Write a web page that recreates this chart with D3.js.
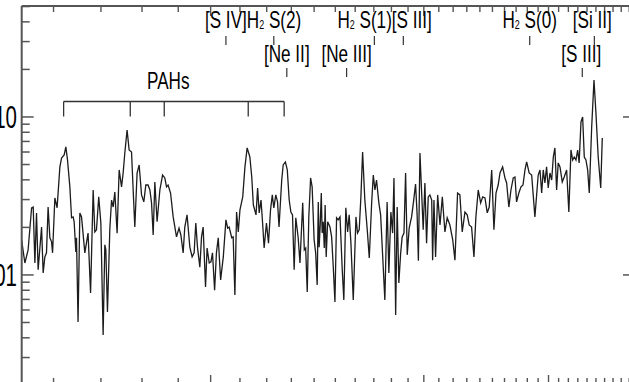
<!DOCTYPE html>
<html><head><meta charset="utf-8">
<script src="https://cdn.jsdelivr.net/npm/d3@7"></script>
<style>html,body{margin:0;padding:0;background:#fff;overflow:hidden}svg{display:block}</style>
</head><body><svg id="c" width="629" height="382"></svg>
<script>
// ---- data (wavelength in micron, flux density) ----
const wavelength = [
5.408,5.466,5.524,5.587,5.616,5.647,5.677,5.707,5.771,5.801,
5.833,5.864,5.895,5.929,5.962,5.981,6.026,6.070,6.125,6.159,
6.211,6.245,6.279,6.327,6.362,6.395,6.416,6.451,6.465,6.498,
6.536,6.572,6.643,6.713,6.768,6.825,6.862,6.899,6.950,6.998,
7.050,7.089,7.112,7.150,7.206,7.246,7.284,7.323,7.378,7.427,
7.485,7.524,7.565,7.621,7.672,7.732,7.773,7.815,7.873,7.926,
7.988,8.047,8.100,8.159,
8.207,8.252,8.296,8.341,8.402,8.478,8.553,8.616,8.663,8.708,
8.778,8.853,8.949,9.023,9.077,9.145,9.194,9.262,9.346,9.416,
9.477,9.529,9.581,9.655,9.708,9.759,9.835,9.885,9.954,10.01,
10.06,10.13,10.19,10.25,10.33,10.42,10.51,10.57,10.62,10.71,
10.76,10.82,10.88,10.94,11.00,11.10,11.18,11.26,11.36,11.43,
11.49,11.59,11.65,11.71,11.78,11.84,11.90,11.99,12.07,12.15,
12.22,12.28,12.36,12.43,12.49,
12.60,12.66,12.75,12.83,12.91,12.98,13.05,13.12,13.19,13.29,
13.37,13.49,13.56,13.62,13.69,13.76,13.84,13.91,14.00,14.07,
14.14,14.19,14.23,14.28,14.33,14.37,14.42,14.47,14.51,14.56,
14.63,14.74,14.82,14.90,14.98,15.06,15.14,15.23,15.34,15.42,
15.52,15.61,15.69,15.78,15.90,16.04,16.12,16.21,16.30,16.39,
16.51,16.64,16.75,16.88,16.97,17.06,17.15,17.28,17.38,17.62,
17.75,17.85,17.97,18.07,18.15,18.25,18.34,18.44,18.55,18.64,
18.75,18.85,18.95,19.07,
19.22,19.34,19.47,19.57,19.65,19.75,19.86,19.96,20.07,20.18,
20.29,20.40,20.52,20.58,20.67,20.78,20.92,21.08,21.24,21.42,
21.58,21.77,21.97,22.13,22.32,22.49,22.66,22.86,23.03,23.18,
23.36,23.54,23.69,23.87,24.06,24.22,24.40,24.58,24.74,24.94,
25.12,25.29,25.47,25.62,25.84,26.04,26.18,26.37,26.55,26.75,
26.90,27.04,27.24,
27.43,27.61,27.79,27.94,28.17,28.40,28.70,29.01,29.18,29.34,
29.49,29.65,29.81,29.97,30.14,30.31,30.47,30.63,30.80,30.96,
31.14,31.37,31.57,31.82,32.05,32.27,32.45,32.62,32.80,32.98,
33.14,33.34,33.52,33.70,33.88,34.07,34.25,34.52,34.78,35.00,
35.26,35.55,35.73
];
const flux = [
0.0167,0.0119,0.0144,0.0266,0.0269,0.0119,0.0247,0.0108,0.0201,0.0103,
0.0130,0.0138,0.0269,0.0172,0.0162,0.0138,0.0307,0.0266,0.0483,0.0550,
0.0575,0.0646,0.0534,0.0361,0.0230,0.0233,0.0217,0.0140,0.0172,0.00504,
0.0247,0.0233,0.0138,0.0184,0.00769,0.0345,0.0187,0.0193,0.0312,0.0213,
0.00417,0.0155,0.0144,0.00583,0.0198,0.0298,0.0269,0.0335,0.0184,0.0462,
0.0361,0.0442,0.0592,0.0827,0.0618,0.0600,0.0345,0.0201,0.0442,0.0497,
0.0321,0.0290,0.0371,0.0371,
0.0345,0.0286,0.0179,0.0388,0.0217,0.0345,0.0429,0.0411,0.0361,0.0371,
0.0330,0.0233,0.0174,0.0198,0.0179,0.0138,0.0201,0.0240,0.0150,0.0130,
0.0138,0.0213,0.0150,0.0112,0.0174,0.0201,0.00840,0.0148,0.0119,0.0121,
0.0138,0.0080,0.0138,0.0172,0.0093,0.0130,0.0223,0.0198,0.0201,0.0172,
0.0174,0.00747,0.0250,0.0187,0.0258,0.0312,0.0483,0.0637,0.0558,0.0417,
0.0277,0.0240,0.0355,0.0247,0.0298,0.0213,0.0148,0.0213,0.0159,0.0258,
0.0321,0.0266,0.0321,0.0290,0.0201,
0.0399,0.0497,0.0519,0.0462,0.0298,0.0250,0.0240,0.0108,0.0230,0.0174,
0.0119,0.0286,0.0144,0.0148,0.00780,0.0233,0.0411,0.0361,0.0167,0.0138,
0.00865,0.0290,0.0150,0.0207,0.0330,0.0184,0.0217,0.0148,0.0277,0.0130,
0.0217,0.0201,0.0174,0.0112,0.00675,0.0230,0.0223,0.0233,0.0108,0.00695,
0.0266,0.0187,0.0240,0.0159,0.00695,0.0233,0.0184,0.0193,0.0312,0.0600,
0.0298,0.0193,0.0128,0.0286,0.0429,0.0345,0.0399,0.0286,0.0240,0.00695,
0.0290,0.0103,0.0250,0.0184,0.0411,0.00558,0.0269,0.00890,0.0138,0.0174,
0.0184,0.0442,0.0134,0.0198,
0.0233,0.0290,0.0376,0.0240,0.0123,0.0592,0.0330,0.0193,0.0382,0.0159,
0.0312,0.0321,0.0298,0.0124,0.0298,0.0130,0.0321,0.0207,0.0312,0.0187,
0.0230,0.0207,0.0167,0.0124,0.0330,0.0321,0.0187,0.0250,0.0240,0.0207,
0.0201,0.0130,0.0233,0.0345,0.0286,0.0312,0.0307,0.0247,0.0269,0.0462,
0.0193,0.0330,0.0371,0.0442,0.0483,0.0411,0.0382,0.0269,0.0345,0.0411,
0.0417,0.0290,0.0330,
0.0361,0.0371,0.0462,0.0519,0.0442,0.0429,0.0233,0.0429,0.0462,0.0330,
0.0462,0.0382,0.0483,0.0355,0.0442,0.0399,0.0558,0.0637,0.0345,0.0512,
0.0483,0.0388,0.0417,0.0462,0.0250,0.0618,0.0534,0.0558,0.0534,0.0618,
0.0512,0.0930,0.100,0.0558,0.0534,0.0462,0.0330,0.0864,0.1715,0.106,
0.0558,0.0355,0.0737
];
const pahBands = [6.2, 7.7, 8.6, 11.3, 12.7];
const pahLabel = "PAHs";
// emission lines: wavelength, row (1 = upper, 2 = lower)
const lineWl  = [10.51, 12.28, 12.81, 15.56, 17.03, 18.71, 28.22, 33.48, 34.82];
const lineRow = [1, 1, 2, 2, 1, 1, 1, 2, 1];
const yLabelValues = [0.1, 0.01];
const yLabelTexts  = ["0.10", "0.01"];
const xMajor = [10, 20, 30];
const xTickValues = d3.range(6, 41);

// ---- layout ----
const svg = d3.select("#c");
const x = d3.scaleLog().domain([5.41, 40.0]).range([21.7, 637]);
const y = d3.scaleLog().domain([0.00204, 0.504]).range([384, 6]);
const L = x.range()[0], R = x.range()[1], T = y.range()[1], B = y.range()[0];
const axisCol = "#555";

// spectrum
const pts = wavelength.map((w, i) => [w, flux[i]]);
svg.append("path").datum(pts)
  .attr("fill", "none").attr("stroke", "#1c1c1c").attr("stroke-width", 1.3)
  .attr("d", d3.line().x(d => x(d[0])).y(d => y(d[1])));

// frame
const g = svg.append("g").attr("stroke", axisCol).attr("fill", "none");
g.append("line").attr("x1", L).attr("x2", L).attr("y1", T).attr("y2", B).attr("stroke-width", 2);
g.append("line").attr("x1", L).attr("x2", R).attr("y1", T).attr("y2", T).attr("stroke-width", 2);
g.append("line").attr("x1", R).attr("x2", R).attr("y1", T).attr("y2", B).attr("stroke-width", 2);
g.append("line").attr("x1", L).attr("x2", R).attr("y1", B).attr("y2", B).attr("stroke-width", 2);

// y ticks
const isMajorY = t => Math.abs(Math.log10(t) - Math.round(Math.log10(t))) < 1e-6;
y.ticks().forEach(t => {
  const yy = y(t), maj = isMajorY(t);
  g.append("line").attr("x1", L).attr("x2", L + (maj ? 12 : 8)).attr("y1", yy).attr("y2", yy).attr("stroke-width", 1.5);
  g.append("line").attr("x1", R).attr("x2", R - (maj ? 14 : 8)).attr("y1", yy).attr("y2", yy).attr("stroke-width", 1.5);
});
// x ticks
xTickValues.forEach(t => {
  const xx = x(t), maj = xMajor.includes(t);
  g.append("line").attr("x1", xx).attr("x2", xx).attr("y1", T).attr("y2", T + (maj ? 10 : 6)).attr("stroke-width", 1.4);
  g.append("line").attr("x1", xx).attr("x2", xx).attr("y1", B).attr("y2", B - (maj ? 9 : 6)).attr("stroke-width", 1.4);
});

// text helper: condensed Arial-like text
const FONT = "'Liberation Sans', Arial, Helvetica, sans-serif";
function ctext(px, py, anchor, size, sx) {
  return svg.append("text")
    .attr("transform", `translate(${px},${py}) scale(${sx},1)`)
    .attr("text-anchor", anchor).attr("font-family", FONT)
    .attr("font-size", size).attr("fill", "#000");
}
// y labels
yLabelValues.forEach((v, i) => {
  ctext(17, y(v) + 11, "end", 31, 0.66).text(yLabelTexts[i]);
});

// PAH bracket
const pg = svg.append("g").attr("stroke", "#333").attr("stroke-width", 1.3).attr("fill", "none");
const pahY = 101.5;
pg.append("line").attr("x1", x(d3.min(pahBands))).attr("x2", x(d3.max(pahBands))).attr("y1", pahY).attr("y2", pahY);
pahBands.forEach(b => pg.append("line").attr("x1", x(b)).attr("x2", x(b)).attr("y1", pahY).attr("y2", pahY + 15));
ctext(x(8.6) + 4, 89, "middle", 23, 0.745).text(pahLabel);

// line ticks
const lg = svg.append("g").attr("stroke", "#333").attr("stroke-width", 1.2);
lineWl.forEach((w, i) => {
  const y1 = lineRow[i] === 1 ? 36 : 68;
  lg.append("line").attr("x1", x(w)).attr("x2", x(w)).attr("y1", y1).attr("y2", y1 + 9);
});

// line labels (H2 with subscript)
function h2label(t, parts) {
  parts.forEach(p => {
    if (p.sub) t.append("tspan").attr("font-size", 12).attr("dy", 1).text(p.s);
    else t.append("tspan").attr("font-size", 23).attr("dy", p.back ? -1 : 0).text(p.s);
  });
}
const FS = 23, SX = 0.745;
// row 1
h2label(ctext(x(10.51) - 21, 28, "start", FS, SX), [{s:"[S IV]H"},{s:"2",sub:true},{s:" S(2)",back:true}]);
h2label(ctext(x(17.03) - 37, 28, "start", FS, SX), [{s:"H"},{s:"2",sub:true},{s:" S(1)[S III]",back:true}]);
h2label(ctext(x(28.22), 28, "middle", FS, SX), [{s:"H"},{s:"2",sub:true},{s:" S(0)",back:true}]);
ctext(x(34.82) - 2, 28, "middle", FS, SX).text("[Si II]");
// row 2
ctext(x(12.81), 62, "middle", FS, SX).text("[Ne II]");
ctext(x(15.56), 62, "middle", FS, SX).text("[Ne III]");
ctext(x(33.48) - 1, 62, "middle", FS, SX).text("[S III]");
</script></body></html>
